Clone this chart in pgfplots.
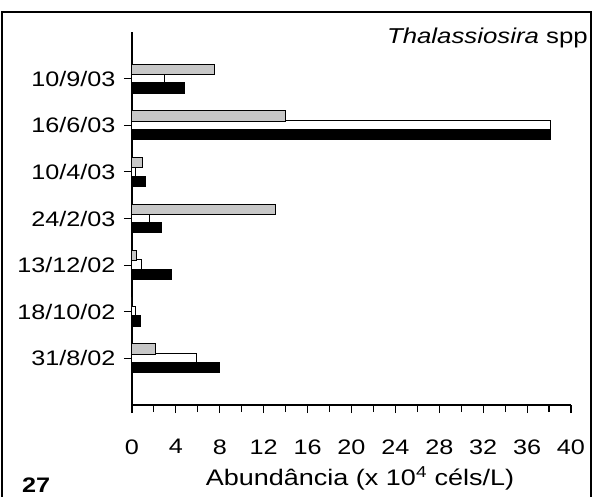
\documentclass[border=0pt]{standalone}
\usepackage{fontspec}
\setmainfont{Liberation Sans}[FakeStretch=1.2]
\usepackage{pgfplots}
\pgfplotsset{compat=1.18}

\begin{document}
\begin{tikzpicture}
% page extent and outer frame
\useasboundingbox (-132pt,-91pt) rectangle (463pt,405pt);
\draw[line width=1.1pt] (-130pt,-92pt) -- (-130pt,393pt) -- (459pt,393pt) -- (459pt,-92pt);

\begin{axis}[
  at={(0pt,0pt)}, anchor=south west,
  scale only axis,
  width=439pt, height=373pt,
  xmin=0, xmax=40, ymin=0, ymax=8,
  axis lines=left,
  axis line style={-, line width=1.4pt},
  xtick={0,4,...,40},
  minor x tick num=1,
  ytick={1,...,7},
  yticklabels={31/8/02,18/10/02,13/12/02,24/2/03,10/4/03,16/6/03,10/9/03},
  tick align=outside,
  major tick length=8pt, minor tick length=7pt,
  tick style={black, line width=1.1pt},
  /pgf/number format/assume math mode=true,
  tick label style={font=\fontsize{21}{25}\selectfont},
  xticklabel style={yshift=-23pt},
  yticklabel style={xshift=-5pt},
  xbar,
  bar width=0.22,
  clip=false,
]
% series: light grey (top), white (middle), black (bottom)
\addplot[draw=black, line width=1pt, fill=white, bar shift=0] coordinates {
  (5.85,1) (0.35,2) (0.9,3) (1.6,4) (0.35,5) (38.1,6) (3.0,7)};
\addplot[draw=black, line width=1pt, fill=black!22, bar shift=0.2] coordinates {
  (2.15,1) (0,2) (0.45,3) (13.1,4) (1.0,5) (14.0,6) (7.5,7)};
\addplot[draw=black, line width=1pt, fill=black, bar shift=-0.2] coordinates {
  (7.95,1) (0.8,2) (3.6,3) (2.7,4) (1.2,5) (38.1,6) (4.75,7)};
\end{axis}

\node[anchor=base] at (228pt,-80pt) {\fontsize{22.5}{27}\selectfont Abundância (x 10\textsuperscript{4} céls/L)};
\node[anchor=base east, inner sep=0pt] at (456pt,361pt) {\fontsize{21.5}{25}\selectfont\textit{Thalassiosira} spp};
\node[anchor=base west, inner sep=0pt] at (-110pt,-87pt) {\fontsize{21}{25}\selectfont\bfseries 27};
\end{tikzpicture}
\end{document}
